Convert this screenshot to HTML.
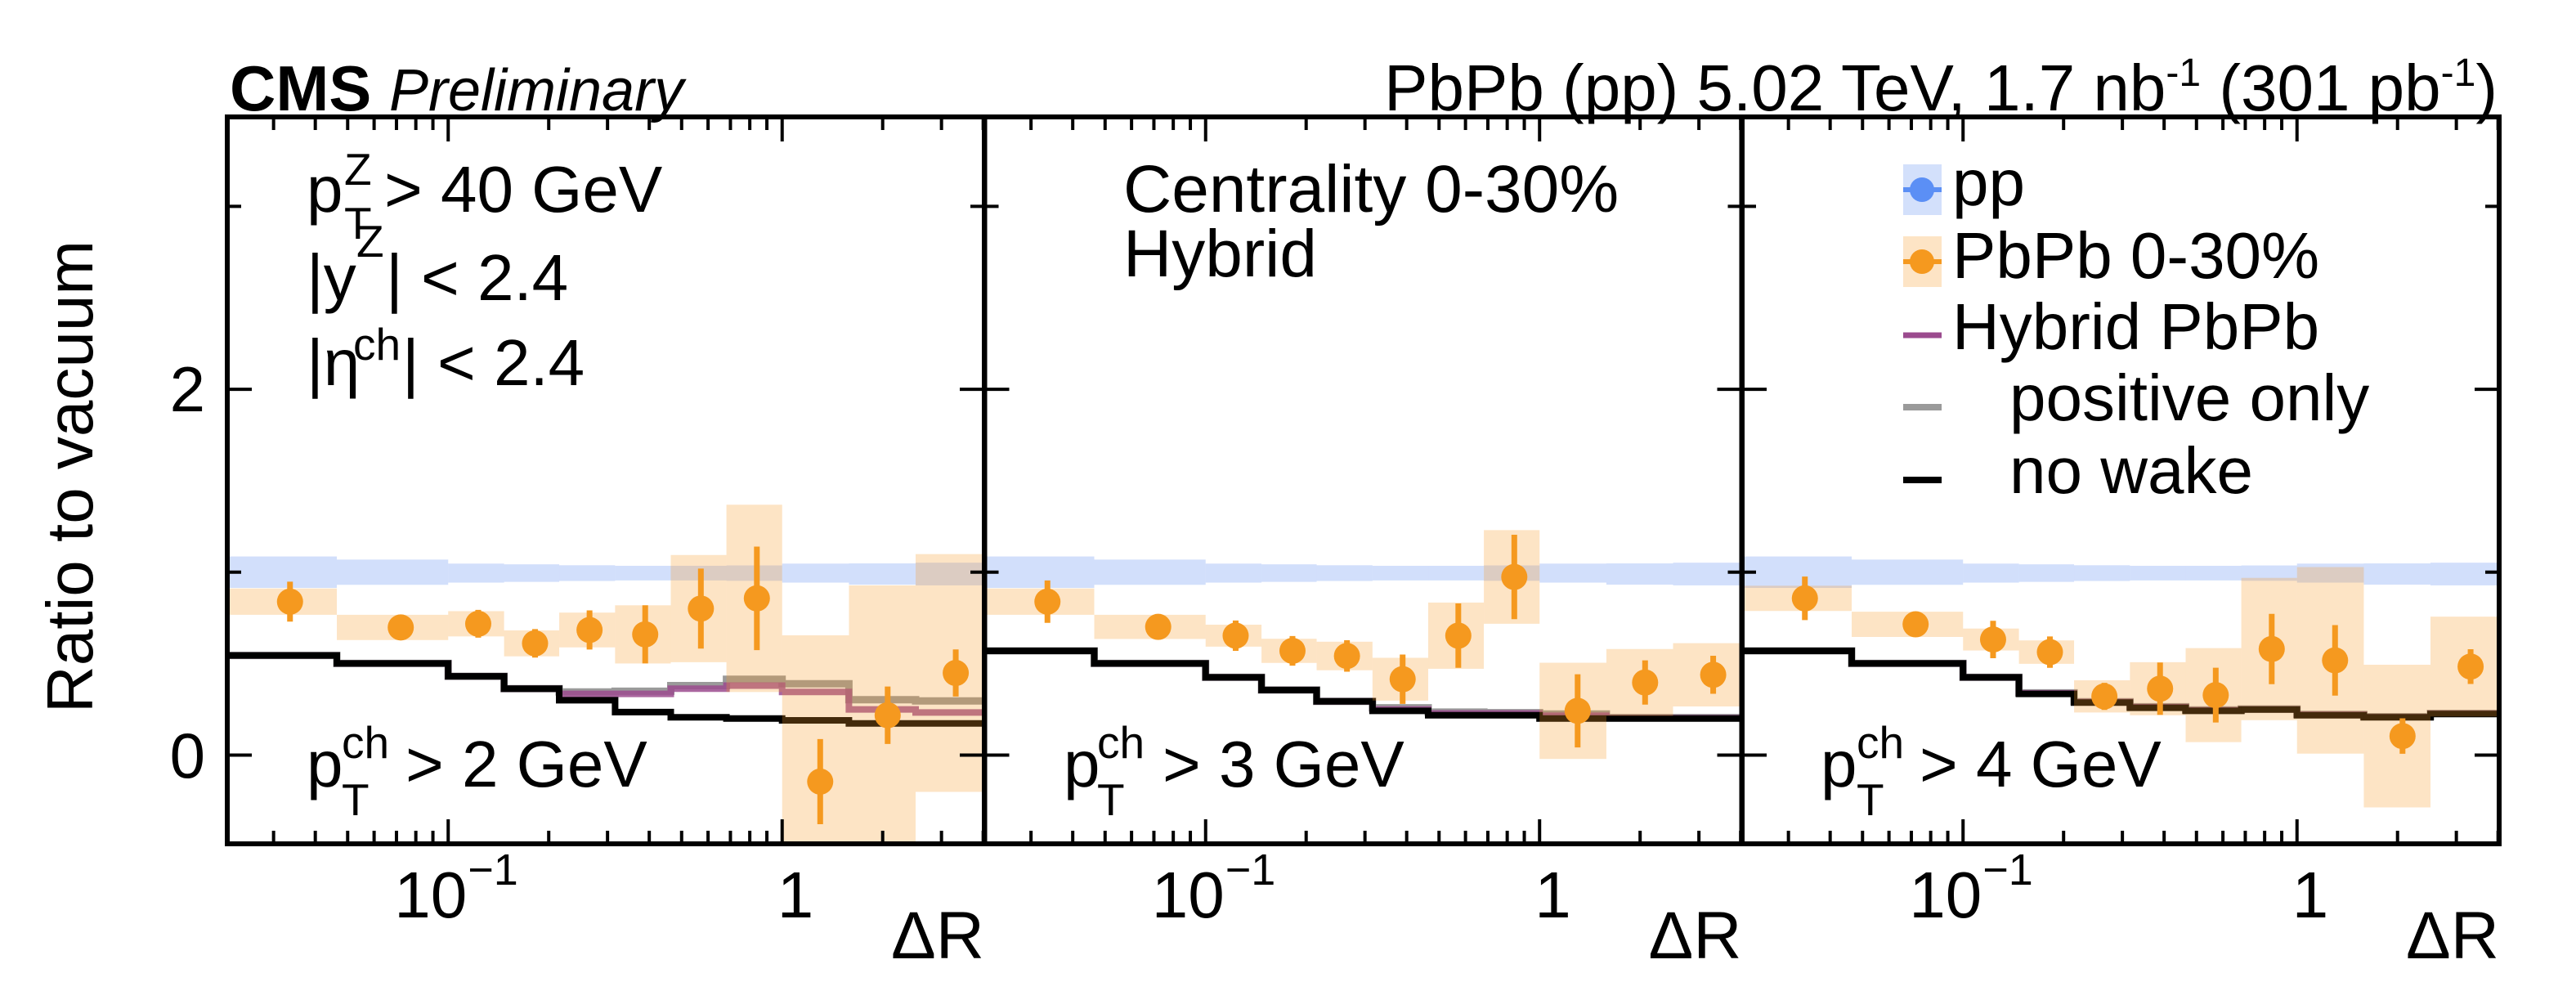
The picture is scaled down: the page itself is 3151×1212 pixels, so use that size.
<!DOCTYPE html>
<html><head><meta charset="utf-8"><style>
html,body{margin:0;padding:0;background:#fff;}
svg{display:block;font-family:"Liberation Sans",Arial,sans-serif;}
</style></head><body>
<svg id="chart" width="3151" height="1212" viewBox="0 0 3151 1212" xmlns="http://www.w3.org/2000/svg">
<rect width="3151" height="1212" fill="#fff"/>
<g id="panels"></g>
<g id="frames"></g>
<text x="281" y="135" font-size="78" font-weight="bold">CMS <tspan font-weight="normal" font-style="italic" font-size="72">Preliminary</tspan></text>
<text x="3055" y="135" font-size="80" text-anchor="end">PbPb (pp) 5.02 TeV, 1.7 nb<tspan dy="-30" font-size="48">-1</tspan><tspan dy="30"> (301 pb</tspan><tspan dy="-30" font-size="48">-1</tspan><tspan dy="30">)</tspan></text>
<text transform="translate(113,583) rotate(-90)" font-size="80" text-anchor="middle">Ratio to vacuum</text>
<text x="251" y="503" font-size="78" text-anchor="end">2</text>
<text x="251" y="951" font-size="78" text-anchor="end">0</text>
<g font-size="80">
<text x="375" y="259">p</text><text x="421" y="226" font-size="55">Z</text><text x="421" y="292" font-size="55">T</text><text x="470" y="259">&gt; 40 GeV</text>
<text x="375" y="367">|y</text><text x="436" y="314" font-size="55">Z</text><text x="472" y="367">| &lt; 2.4</text>
<text x="375" y="471">|η</text><text x="432" y="440" font-size="55">ch</text><text x="492" y="471">| &lt; 2.4</text>
</g>
<g font-size="80">
<text x="375" y="962">p</text><text x="418" y="927" font-size="55">ch</text><text x="418" y="997" font-size="55">T</text><text x="496" y="962">&gt; 2 GeV</text>
<text x="1301" y="962">p</text><text x="1342" y="927" font-size="55">ch</text><text x="1342" y="997" font-size="55">T</text><text x="1422" y="962">&gt; 3 GeV</text>
<text x="2227" y="962">p</text><text x="2271" y="927" font-size="55">ch</text><text x="2271" y="997" font-size="55">T</text><text x="2348" y="962">&gt; 4 GeV</text>
</g>
<g font-size="82">
<text x="1374" y="259">Centrality 0-30%</text>
<text x="1374" y="338">Hybrid</text>
</g>
<g font-size="80">
<g>
<rect x="2328" y="201" width="47" height="62" fill="#d3e0fb"/><line x1="2328" y1="232" x2="2375" y2="232" stroke="#5b8ff5" stroke-width="6"/><circle cx="2351" cy="232" r="15" fill="#5b8ff5"/>
<text x="2388" y="251">pp</text></g>
<g>
<rect x="2328" y="289" width="47" height="62" fill="#fde4c5"/><line x1="2328" y1="320" x2="2375" y2="320" stroke="#f5991f" stroke-width="6"/><circle cx="2351" cy="320" r="15" fill="#f5991f"/>
<text x="2388" y="340">PbPb 0-30%</text></g>
<g>
<line x1="2328" y1="410" x2="2375" y2="410" stroke="#9b4b8e" stroke-width="7"/><text x="2388" y="427">Hybrid PbPb</text></g>
<g>
<line x1="2328" y1="498" x2="2375" y2="498" stroke="#9a9a9a" stroke-width="8"/><text x="2458" y="514">positive only</text></g>
<g>
<line x1="2328" y1="587" x2="2375" y2="587" stroke="#000" stroke-width="8"/><text x="2458" y="603">no wake</text></g>
</g>
</svg>
<script>
const binEdges = [0.0218, 0.0464, 0.1, 0.147, 0.215, 0.316, 0.464, 0.681, 1.0, 1.585, 2.51, 4.03];
const pointX = [0.0336, 0.0721, 0.123, 0.182, 0.265, 0.389, 0.571, 0.84, 1.30, 2.07, 3.31];
const ppVal = [1.0, 1.0, 0.995, 0.995, 0.995, 0.995, 0.995, 0.995, 0.995, 0.99, 0.99];
const ppErr = [0.086, 0.069, 0.052, 0.048, 0.043, 0.040, 0.040, 0.042, 0.052, 0.058, 0.062];
const p1Val = [0.839, 0.698, 0.718, 0.611, 0.684, 0.660, 0.801, 0.857, -0.145, 0.218, 0.449];
const p1Stat = [0.109, 0.02, 0.076, 0.078, 0.107, 0.159, 0.219, 0.283, 0.233, 0.157, 0.129];
const p1Sys = [0.072, 0.069, 0.069, 0.071, 0.095, 0.159, 0.293, 0.512, 0.80, 0.71, 0.65];
const p1NoWake = [0.545, 0.501, 0.431, 0.363, 0.300, 0.235, 0.207, 0.200, 0.190, 0.173, 0.173];
const p1Pos = [0.545, 0.501, 0.431, 0.363, 0.345, 0.349, 0.380, 0.415, 0.390, 0.303, 0.296];
const p1Hyb = [0.545, 0.501, 0.431, 0.363, 0.335, 0.335, 0.363, 0.380, 0.345, 0.250, 0.233];
const p2Val = [0.839, 0.701, 0.653, 0.570, 0.542, 0.415, 0.653, 0.974, 0.242, 0.397, 0.439];
const p2Stat = [0.116, 0.03, 0.083, 0.081, 0.086, 0.135, 0.176, 0.231, 0.200, 0.121, 0.104];
const p2Sys = [0.072, 0.066, 0.060, 0.066, 0.078, 0.117, 0.181, 0.256, 0.263, 0.183, 0.173];
const p2NoWake = [0.570, 0.501, 0.425, 0.356, 0.294, 0.242, 0.218, 0.218, 0.200, 0.200, 0.200];
const p2Pos = [0.570, 0.501, 0.425, 0.356, 0.294, 0.259, 0.235, 0.232, 0.225, 0.205, 0.205];
const p2Hyb = [0.570, 0.501, 0.425, 0.356, 0.294, 0.250, 0.228, 0.228, 0.215, 0.202, 0.202];
const p3Val = [0.857, 0.715, 0.632, 0.563, 0.321, 0.363, 0.328, 0.580, 0.518, 0.104, 0.484];
const p3Stat = [0.119, 0.03, 0.102, 0.086, 0.074, 0.143, 0.150, 0.192, 0.193, 0.097, 0.095];
const p3Sys = [0.069, 0.069, 0.060, 0.064, 0.088, 0.145, 0.257, 0.389, 0.510, 0.390, 0.273];
const p3NoWake = [0.570, 0.501, 0.425, 0.335, 0.287, 0.259, 0.242, 0.249, 0.218, 0.207, 0.225];
const p3Pos = [0.570, 0.501, 0.425, 0.340, 0.292, 0.264, 0.247, 0.252, 0.222, 0.210, 0.228];
const p3Hyb = [0.570, 0.501, 0.425, 0.338, 0.290, 0.262, 0.245, 0.250, 0.220, 0.208, 0.226];
const yTickVals = [0, 1, 2, 3];
const xMajorTicks = [0.1, 1];
const xMinorTicks = [0.03,0.04,0.05,0.06,0.07,0.08,0.09,0.2,0.3,0.4,0.5,0.6,0.7,0.8,0.9,2,3,4];
const xTickText = ["10", "1"];

const NS = "http://www.w3.org/2000/svg";
const PW = 926, TOP = 143, BOT = 1032;
const panelLefts = [278, 1204.5, 2131];
const LMIN = Math.log10(binEdges[0]), LMAX = Math.log10(binEdges[binEdges.length-1]);
function xs(v, L){ return L + (Math.log10(v) - LMIN) / (LMAX - LMIN) * PW; }
function ys(v){ return 923.5 - v * 223.7; }
function mk(tag, attrs, parent){ const e = document.createElementNS(NS, tag); for (const k in attrs) e.setAttribute(k, attrs[k]); parent.appendChild(e); return e; }

const panelsG = document.getElementById('panels');
const framesG = document.getElementById('frames');
const datasets = [
  {val:p1Val, stat:p1Stat, sys:p1Sys, nw:p1NoWake, pos:p1Pos, hyb:p1Hyb},
  {val:p2Val, stat:p2Stat, sys:p2Sys, nw:p2NoWake, pos:p2Pos, hyb:p2Hyb},
  {val:p3Val, stat:p3Stat, sys:p3Sys, nw:p3NoWake, pos:p3Pos, hyb:p3Hyb}
];
function stepPath(vals, L){
  let d = '';
  for (let i = 0; i < vals.length; i++){
    const x0 = xs(binEdges[i], L), x1 = xs(binEdges[i+1], L), y = ys(vals[i]);
    d += (i === 0 ? 'M' : 'L') + x0.toFixed(1) + ' ' + y.toFixed(1) + ' L' + x1.toFixed(1) + ' ' + y.toFixed(1) + ' ';
  }
  return d;
}
datasets.forEach((ds, p) => {
  const L = panelLefts[p];
  const g = mk('g', {'clip-path': 'url(#clip' + p + ')'}, panelsG);
  
  
  const cp = mk('clipPath', {id: 'clip' + p}, panelsG);
  mk('rect', {x: L, y: TOP, width: PW, height: BOT - TOP}, cp);
  for (let i = 0; i < ppVal.length; i++){
    const x0 = xs(binEdges[i], L), x1 = xs(binEdges[i+1], L);
    const r = mk('rect', {x: x0, y: ys(ppVal[i] + ppErr[i]), width: x1 - x0, height: ys(ppVal[i] - ppErr[i]) - ys(ppVal[i] + ppErr[i]), fill: 'rgb(80,130,240)', 'fill-opacity': 0.26}, g);
    
    
  }
  const lp = mk('path', {d: stepPath(ds.pos, L), fill: 'none', stroke: '#9a9a9a', 'stroke-width': 9}, g);
  
  
  const lh = mk('path', {d: stepPath(ds.hyb, L), fill: 'none', stroke: '#9b4b8e', 'stroke-width': 8, 'stroke-opacity': 0.85}, g);
  
  
  const ln = mk('path', {d: stepPath(ds.nw, L), fill: 'none', stroke: '#000', 'stroke-width': 8}, g);
  
  
  for (let i = 0; i < ds.val.length; i++){
    const x0 = xs(binEdges[i], L), x1 = xs(binEdges[i+1], L);
    const r = mk('rect', {x: x0, y: ys(ds.val[i] + ds.sys[i]), width: x1 - x0, height: ys(ds.val[i] - ds.sys[i]) - ys(ds.val[i] + ds.sys[i]), fill: 'rgb(248,155,40)', 'fill-opacity': 0.27}, g);
    
    
  }
  for (let i = 0; i < ds.val.length; i++){
    const cx = xs(pointX[i], L);
    const e = mk('line', {x1: cx, x2: cx, y1: ys(ds.val[i] + ds.stat[i]), y2: ys(ds.val[i] - ds.stat[i]), stroke: '#f5991f', 'stroke-width': 7}, g);
    
    
    const c = mk('circle', {cx: cx, cy: ys(ds.val[i]), r: 16, fill: '#f5991f'}, g);
    
    
  }
  const f = mk('rect', {x: L, y: TOP, width: PW, height: BOT - TOP, fill: 'none', stroke: '#000', 'stroke-width': 6}, framesG);
  
  
  xMajorTicks.forEach((t, k) => {
    const x = xs(t, L);
    const a = mk('line', {x1: x, x2: x, y1: BOT, y2: BOT - 30, stroke: '#000', 'stroke-width': 4}, framesG);
    
    
    const b = mk('line', {x1: x, x2: x, y1: TOP, y2: TOP + 30, stroke: '#000', 'stroke-width': 4}, framesG);
    
    
    const tx = mk('text', {x: k === 0 ? x - 66 : x - 6, y: 1122, 'font-size': 80}, framesG);
    tx.textContent = xTickText[k];
    
    
    if (k === 0){
      const s = mk('text', {x: x + 24, y: 1082, 'font-size': 54}, framesG);
      s.textContent = '\u22121';
      
      
    }
  });
  xMinorTicks.forEach(t => {
    const x = xs(t, L);
    const a = mk('line', {x1: x, x2: x, y1: BOT, y2: BOT - 16, stroke: '#000', 'stroke-width': 4}, framesG);
    
    
    const b = mk('line', {x1: x, x2: x, y1: TOP, y2: TOP + 16, stroke: '#000', 'stroke-width': 4}, framesG);
    
    
  });
  yTickVals.forEach(v => {
    const y = ys(v), len = (v % 2 === 0) ? 30 : 17;
    const a = mk('line', {x1: L, x2: L + len, y1: y, y2: y, stroke: '#000', 'stroke-width': 4}, framesG);
    
    
    const b = mk('line', {x1: L + PW, x2: L + PW - len, y1: y, y2: y, stroke: '#000', 'stroke-width': 4}, framesG);
    
    
  });
  const dr = mk('text', {x: L + PW, y: 1172, 'font-size': 82, 'text-anchor': 'end'}, framesG);
  dr.textContent = '\u0394R';
  
  
});
</script>
</body></html>
